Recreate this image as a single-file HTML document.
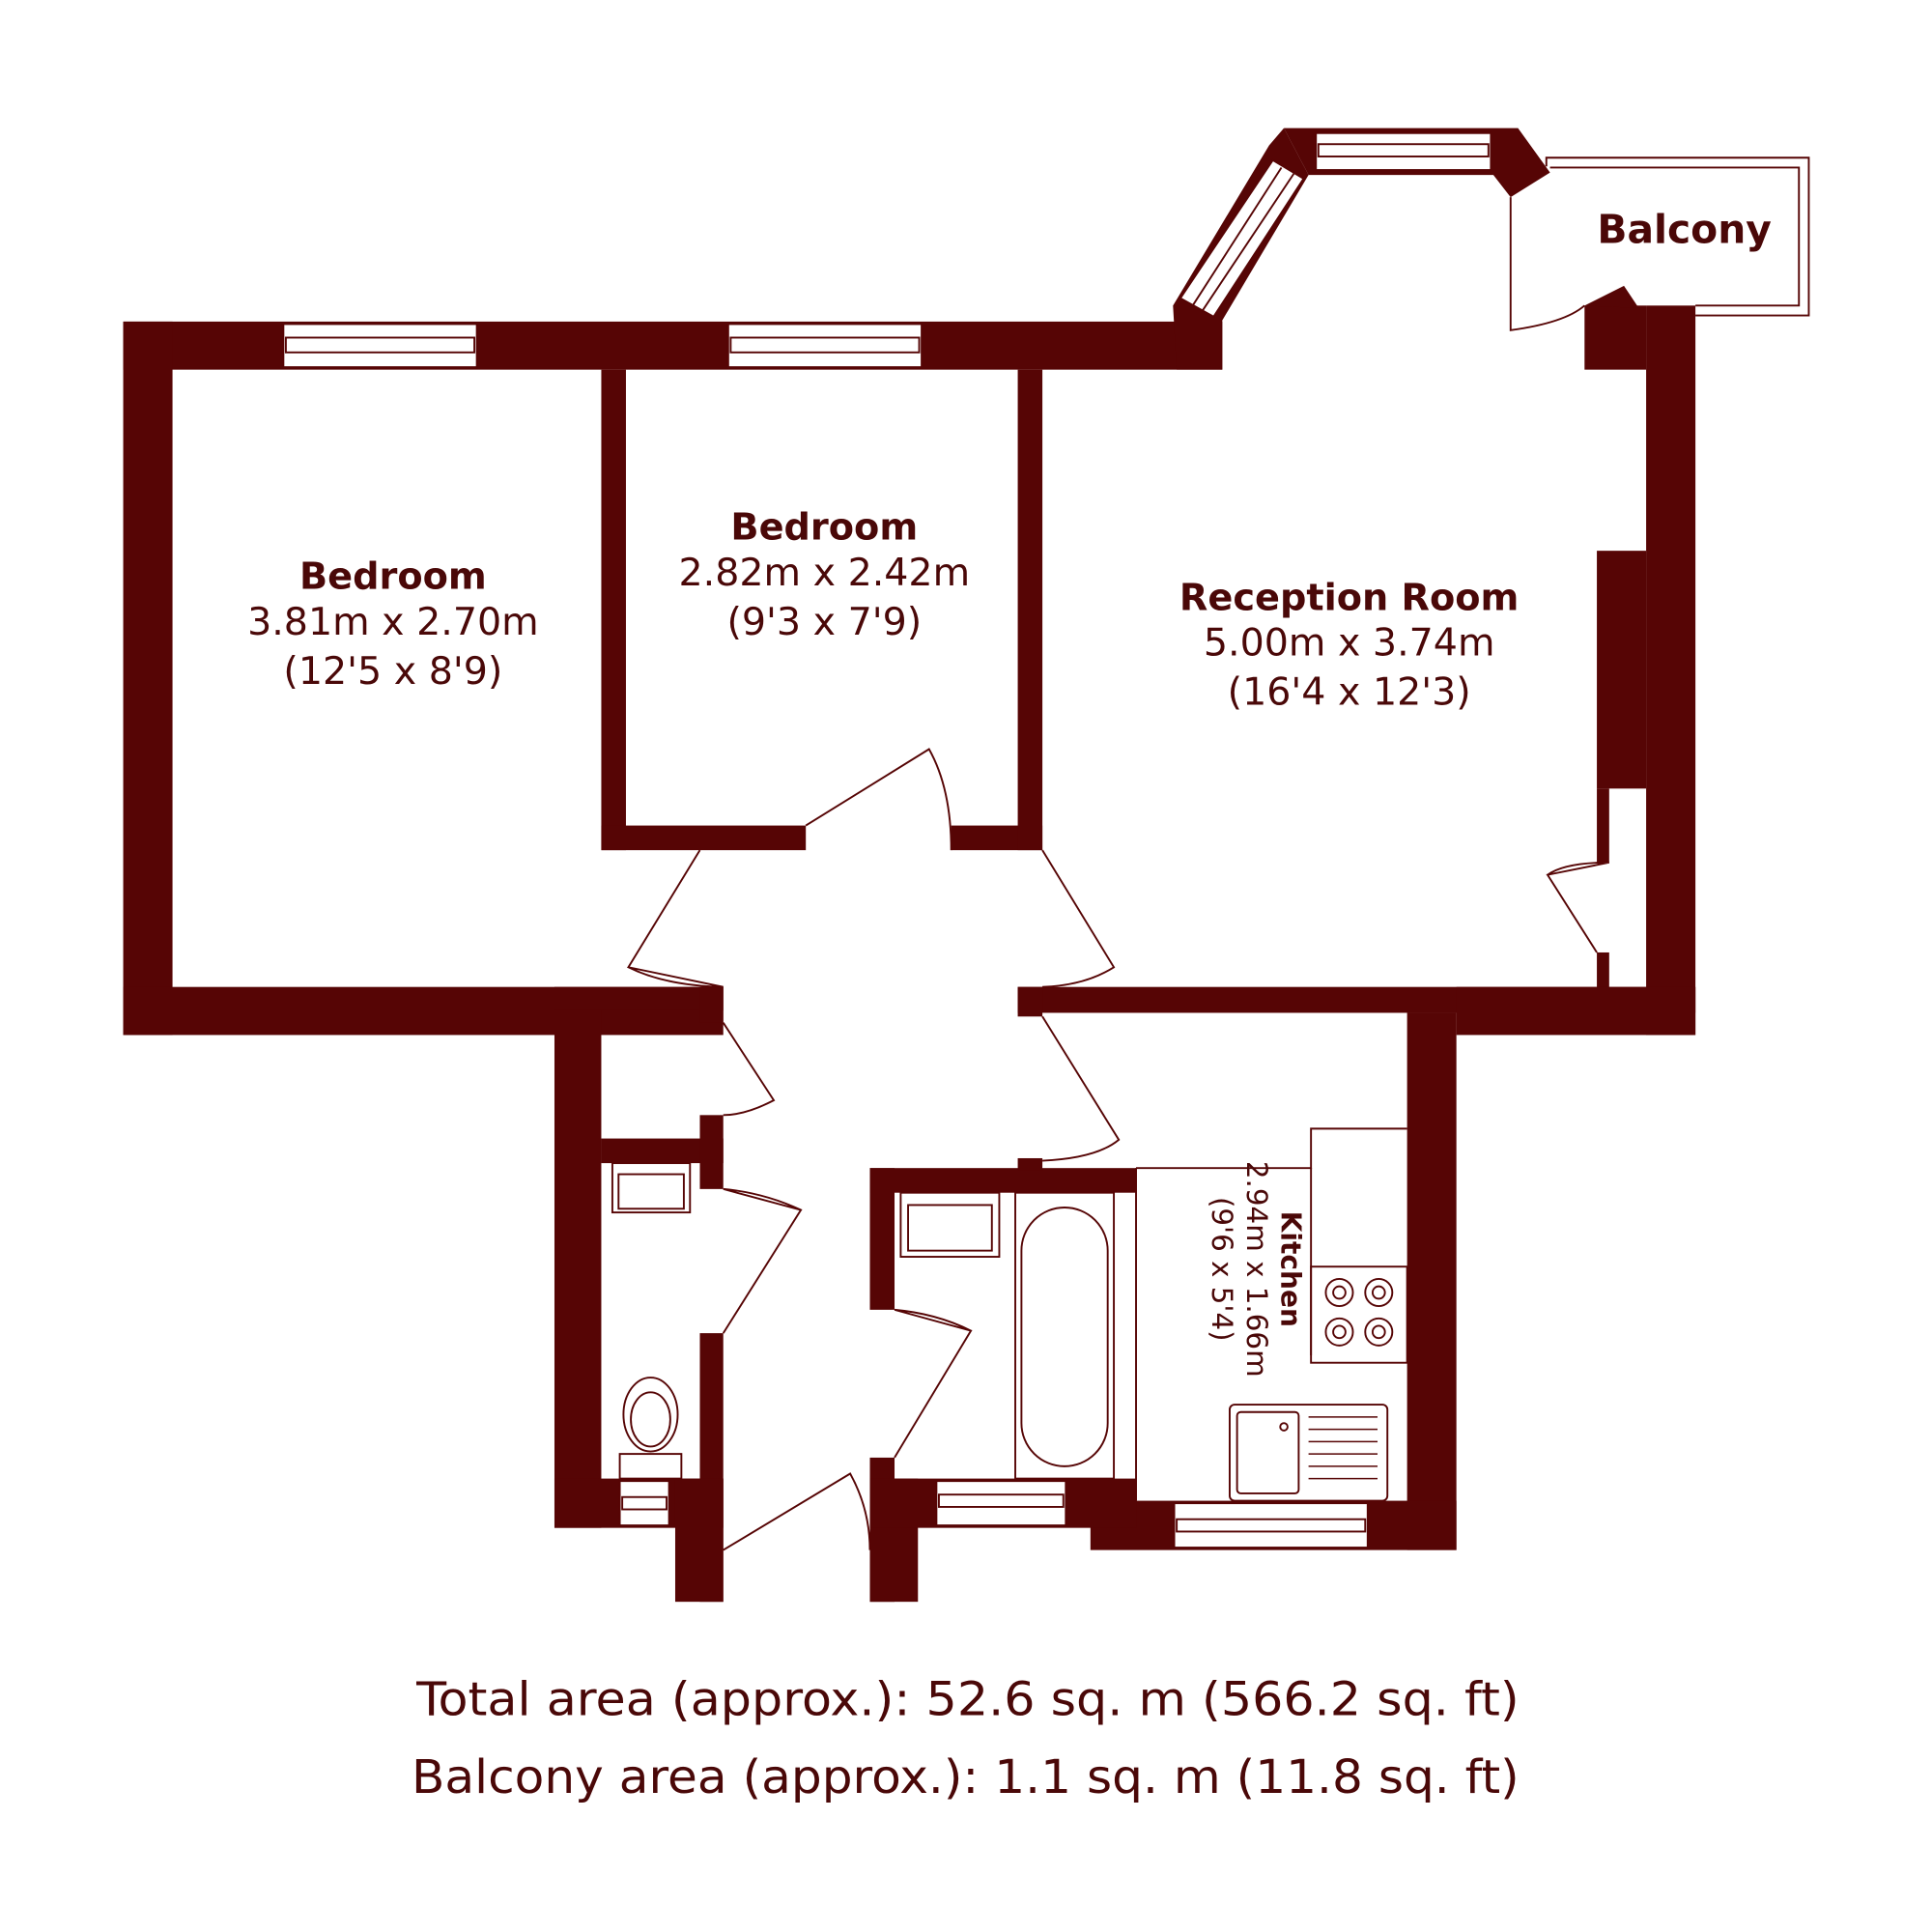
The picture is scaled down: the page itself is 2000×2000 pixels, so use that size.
<!DOCTYPE html>
<html><head><meta charset="utf-8"><style>
html,body{margin:0;padding:0;background:#fff}
svg{display:block}
text{font-family:"DejaVu Sans","Liberation Sans",sans-serif;fill:#4a0808}
</style></head><body>
<svg width="2000" height="2000" viewBox="0 0 1568 1568" xmlns="http://www.w3.org/2000/svg">
<rect width="1568" height="1568" fill="#fff"/>
<g fill="#560505">
<rect x="100" y="261" width="892" height="39"/>
<rect x="100" y="261" width="40" height="579"/>
<rect x="100" y="801" width="487" height="39"/>
<rect x="488" y="300" width="20" height="390"/>
<rect x="488" y="670" width="166" height="20"/>
<rect x="772" y="670" width="74" height="20"/>
<rect x="826" y="300" width="20" height="390"/>
<polygon points="1042,104 1232,104 1258,140 1226,160 1212,142 1062,142 1042,104"/>
<polygon points="1042,104 1062,142 992,260 992,300 955,300 952,248 1030,118"/>
<rect x="1336" y="248" width="40" height="592"/>
<rect x="1286" y="248" width="50" height="52"/>
<polygon points="1286,248 1318,232 1330,250"/>
<rect x="1296" y="447" width="40" height="193"/>
<rect x="1296" y="640" width="10" height="60"/>
<rect x="1296" y="773" width="10" height="30"/>
<rect x="826" y="801" width="550" height="21"/>
<rect x="1182" y="801" width="194" height="39"/>
<rect x="826" y="801" width="20" height="24"/>
<rect x="1142" y="822" width="40" height="436"/>
<rect x="885" y="1218" width="297" height="40"/>
<rect x="450" y="820" width="38" height="420"/>
<rect x="450" y="801" width="137" height="19"/>
<rect x="568" y="801" width="19" height="29"/>
<rect x="488" y="924" width="99" height="20"/>
<rect x="568" y="905" width="19" height="60"/>
<rect x="568" y="1082" width="19" height="218"/>
<rect x="450" y="1200" width="137" height="40"/>
<rect x="548" y="1200" width="39" height="100"/>
<rect x="706" y="948" width="216" height="20"/>
<rect x="706" y="948" width="20" height="115"/>
<rect x="706" y="1183" width="20" height="117"/>
<rect x="706" y="1200" width="39" height="100"/>
<rect x="706" y="1200" width="216" height="40"/>
<rect x="826" y="940" width="20" height="10"/>
</g>
<g fill="#fff" stroke="#560505" stroke-width="1.5">
<rect x="230" y="263" width="157" height="35"/><rect x="232" y="274" width="153" height="12"/>
<rect x="591" y="263" width="157" height="35"/><rect x="593" y="274" width="153" height="12"/>
<rect x="1068" y="108" width="142" height="30"/><rect x="1070" y="117" width="138" height="10"/>
<rect x="760" y="1202" width="105" height="36"/><rect x="762" y="1213" width="101" height="10"/>
<rect x="953" y="1220" width="157" height="36"/><rect x="955" y="1233" width="153" height="10"/>
<rect x="503" y="1202" width="40" height="36"/><rect x="505" y="1215" width="36" height="10"/>
</g>
<polygon points="1033,130 1058,145 985,257 958,242" fill="#fff" stroke="#560505" stroke-width="1.5"/>
<line x1="1040" y1="136" x2="968" y2="248" stroke="#560505" stroke-width="1.5"/>
<line x1="1050" y1="141" x2="976" y2="252" stroke="#560505" stroke-width="1.5"/>
<g fill="none" stroke="#560505" stroke-width="1.5">
<polyline points="1255,135 1255,128 1468,128 1468,256 1376,256"/>
<polyline points="1258,136 1460,136 1460,248 1376,248"/>
<path d="M1226,160 L1226,268 Q1270,262 1286,248"/>
<path d="M654,670 L754,608 Q772,640 772,690"/>
<path d="M587,801 L510,785 L568,690 M510,785 Q540,800 587,801"/>
<path d="M846,690 L904,785 Q880,800 846,801"/>
<path d="M1306,700 L1256,710 L1296,773 M1256,710 Q1270,700 1306,700"/>
<path d="M587,830 L628,893 Q605,905 587,905"/>
<path d="M846,825 L908,925 Q890,940 846,942"/>
<path d="M587,965 L650,982 L587,1082 M587,965 Q620,968 650,982"/>
<path d="M726,1063 L788,1080 L726,1183 M726,1063 Q760,1066 788,1080"/>
<path d="M587,1258 L690,1196 Q706,1225 706,1258"/>
<rect x="497" y="944" width="63" height="40"/><rect x="502" y="953" width="53" height="28"/>
<rect x="731" y="968" width="80" height="52"/><rect x="737" y="978" width="68" height="37"/>
<rect x="824" y="968" width="80" height="232"/><rect x="829" y="980" width="70" height="210" rx="35"/>
<ellipse cx="528" cy="1148" rx="22" ry="30"/><ellipse cx="528" cy="1152" rx="16" ry="22"/>
<rect x="503" y="1180" width="50" height="20"/>
<polyline points="922,948 1064,948 1064,916 1142,916"/>
<line x1="922" y1="948" x2="922" y2="1218"/>
<line x1="1064" y1="948" x2="1064" y2="1100"/>
<rect x="1064" y="1028" width="78" height="78"/>
<circle cx="1087" cy="1049" r="11"/><circle cx="1087" cy="1049" r="5"/>
<circle cx="1119" cy="1049" r="11"/><circle cx="1119" cy="1049" r="5"/>
<circle cx="1087" cy="1081" r="11"/><circle cx="1087" cy="1081" r="5"/>
<circle cx="1119" cy="1081" r="11"/><circle cx="1119" cy="1081" r="5"/>
<rect x="998" y="1140" width="128" height="78" rx="4"/><rect x="1004" y="1146" width="50" height="66" rx="3"/>
<circle cx="1042" cy="1158" r="3"/>
</g>
<g stroke="#560505" stroke-width="1.2">
<line x1="1062" y1="1150" x2="1118" y2="1150"/><line x1="1062" y1="1160" x2="1118" y2="1160"/>
<line x1="1062" y1="1170" x2="1118" y2="1170"/><line x1="1062" y1="1180" x2="1118" y2="1180"/>
<line x1="1062" y1="1190" x2="1118" y2="1190"/><line x1="1062" y1="1200" x2="1118" y2="1200"/>
</g>
<g text-anchor="middle">
<text x="319" y="478" font-size="30" font-weight="bold">Bedroom</text>
<text x="319" y="515" font-size="31">3.81m x 2.70m</text>
<text x="319" y="555" font-size="31">(12'5 x 8'9)</text>
<text x="669" y="438" font-size="30" font-weight="bold">Bedroom</text>
<text x="669" y="475" font-size="31">2.82m x 2.42m</text>
<text x="669" y="515" font-size="31">(9'3 x 7'9)</text>
<text x="1095" y="495" font-size="30" font-weight="bold">Reception Room</text>
<text x="1095" y="532" font-size="31">5.00m x 3.74m</text>
<text x="1095" y="572" font-size="31">(16'4 x 12'3)</text>
<text x="1367" y="197" font-size="32" font-weight="bold">Balcony</text>
</g>
<text x="338" y="1392" font-size="38" textLength="895" lengthAdjust="spacingAndGlyphs">Total area (approx.): 52.6 sq. m (566.2 sq. ft)</text>
<text x="334" y="1455" font-size="38" textLength="899" lengthAdjust="spacingAndGlyphs">Balcony area (approx.): 1.1 sq. m (11.8 sq. ft)</text>
<g transform="translate(1040,1030) rotate(90)" text-anchor="middle">
<text x="0" y="0" font-size="22" font-weight="bold">Kitchen</text>
<text x="0" y="28" font-size="23">2.94m x 1.66m</text>
<text x="0" y="56" font-size="23">(9'6 x 5'4)</text>
</g>
</svg>
</body></html>
